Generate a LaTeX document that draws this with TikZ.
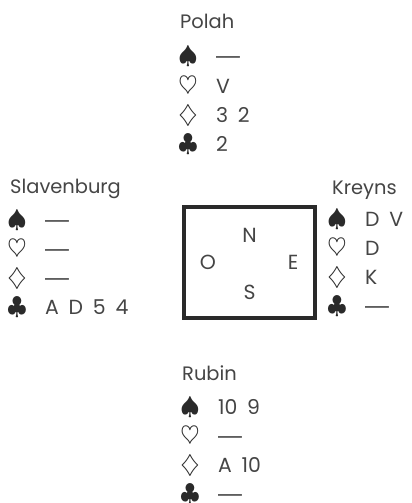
\documentclass[tikz,border=0pt]{standalone}
\usepackage{fontspec}
\setmainfont{Poppins}[WordSpace=1.8]
\newfontfamily\dashfont{Liberation Sans}
\usetikzlibrary{positioning}
\definecolor{ink}{HTML}{454545}
\definecolor{suitink}{HTML}{2A2A2A}

\begin{document}
\begin{tikzpicture}[x=1bp, y=-1bp,
    node distance=8.2bp and 18bp,
    player/.style={anchor=west, inner sep=0pt, text height=13bp, text depth=0pt,
                   font=\fontsize{19.5}{19.5}\selectfont, text=ink},
    suit/.style={inner sep=0pt, minimum width=16bp, minimum height=20bp,
                 font=\fontsize{24}{24}\selectfont, text=suitink},
    cards/.style={inner sep=0pt, text height=14bp, text depth=0pt,
                  font=\fontsize{20.5}{20.5}\selectfont, text=ink},
    voidsuit/.style={cards, font=\dashfont\fontsize{24}{24}\selectfont},
    seat/.style={inner sep=0pt, text height=14bp, text depth=0pt,
                 font=\fontsize{20.5}{20.5}\selectfont, text=ink},
    table/.style={draw=suitink, line width=3.5bp, minimum width=131bp,
                  minimum height=111bp, inner sep=0pt, outer sep=0pt},
]
\useasboundingbox[fill=white] (0,0) rectangle (411,503);

% North -- Polah
\node[player] (polah) at (180,22) {Polah};
\node[suit] (ps) at (188,57) {$\spadesuit$};
\node[suit, below=of ps] (ph) {$\heartsuit$};
\node[suit, below=of ph] (pd) {$\diamondsuit$};
\node[suit, below=of pd] (pc) {$\clubsuit$};
\node[voidsuit, right=of ps] (psc) {—};
\node[cards, right=of ph] (phc) {V};
\node[cards, right=of pd] (pdc) {3 2};
\node[cards, right=of pc] (pcc) {2};

% West -- Slavenburg
\node[player] (slav) at (10,187) {Slavenburg};
\node[suit] (ss) at (17,220) {$\spadesuit$};
\node[suit, below=of ss] (sh) {$\heartsuit$};
\node[suit, below=of sh] (sd) {$\diamondsuit$};
\node[suit, below=of sd] (sc) {$\clubsuit$};
\node[voidsuit, right=of ss] (ssc) {—};
\node[voidsuit, right=of sh] (shc) {—};
\node[voidsuit, right=of sd] (sdc) {—};
\node[cards, right=of sc] (scc) {A D 5 4};

% East -- Kreyns
\node[player] (kreyns) at (332,188) {Kreyns};
\node[suit] (ks) at (337,219) {$\spadesuit$};
\node[suit, below=of ks] (kh) {$\heartsuit$};
\node[suit, below=of kh] (kd) {$\diamondsuit$};
\node[suit, below=of kd] (kc) {$\clubsuit$};
\node[cards, right=of ks] (ksc) {D V};
\node[cards, right=of kh] (khc) {D};
\node[cards, right=of kd] (kdc) {K};
\node[voidsuit, right=of kc] (kcc) {—};

% South -- Rubin
\node[player] (rubin) at (182,374) {Rubin};
\node[suit] (rs) at (190,407) {$\spadesuit$};
\node[suit, below=of rs] (rh) {$\heartsuit$};
\node[suit, below=of rh] (rd) {$\diamondsuit$};
\node[suit, below=of rd] (rc) {$\clubsuit$};
\node[cards, right=of rs] (rsc) {10 9};
\node[voidsuit, right=of rh] (rhc) {—};
\node[cards, right=of rd] (rdc) {A 10};
\node[voidsuit, right=of rc] (rcc) {—};

% Table with the seats
\node[table] (table) at (249.5,262.5) {};
\node[seat] (north) at ([yshift=27.5bp]table.center) {N};
\node[seat] (south) at ([yshift=-29.5bp]table.center) {S};
\node[seat] (west)  at ([xshift=-41.5bp]table.center) {O};
\node[seat] (east)  at ([xshift=43.5bp]table.center) {E};
\end{tikzpicture}
\end{document}
